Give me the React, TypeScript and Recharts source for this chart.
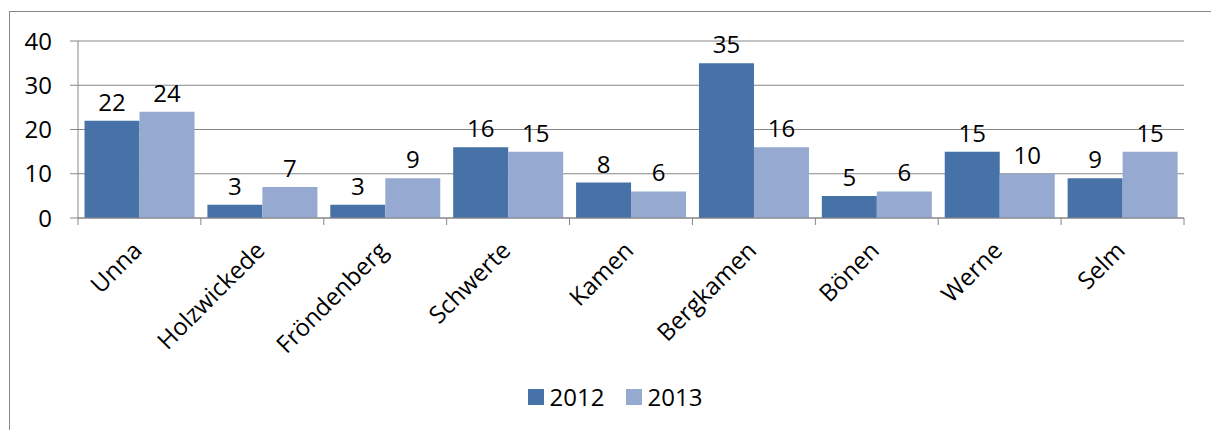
import React from 'react';
import { BarChart, Bar, XAxis, YAxis, CartesianGrid, Legend, LabelList } from 'recharts';

const towns = ['Unna', 'Holzwickede', 'Fröndenberg', 'Schwerte', 'Kamen', 'Bergkamen', 'Bönen', 'Werne', 'Selm'];
const values2012 = [22, 3, 3, 16, 8, 35, 5, 15, 9];
const values2013 = [24, 7, 9, 15, 6, 16, 6, 10, 15];
const yTicks = [0, 10, 20, 30, 40];

const data = towns.map((town, i) => ({ town, y2012: values2012[i], y2013: values2013[i] }));

const W = 1211;
const H = 430;
const PLOT_LEFT = 78;
const PLOT_RIGHT = 1184;
const BAND = (PLOT_RIGHT - PLOT_LEFT) / towns.length;
const AXIS = '#868686';
const DARK = '#4672A8';
const LIGHT = '#95A9D1';
const FONT = '"Open Sans", Lato, sans-serif';
const FS = 24;

const TownTick = (props: any) => {
  const { x, y, payload, index } = props;
  return (
    <g>
      <line x1={x - BAND / 2} x2={x - BAND / 2} y1={y} y2={y + 7} stroke={AXIS} />
      {index === towns.length - 1 && (
        <line x1={x + BAND / 2} x2={x + BAND / 2} y1={y} y2={y + 7} stroke={AXIS} />
      )}
      <text
        transform={`translate(${x + 4},${y + 34}) rotate(-45)`}
        textAnchor="end"
        fontSize={FS}
        fontFamily={FONT}
        fill="#000"
      >
        {payload.value}
      </text>
    </g>
  );
};

const LegendBox = () => (
  <div style={{ display: 'flex', justifyContent: 'center', alignItems: 'center', fontFamily: FONT, fontSize: FS, color: '#000' }}>
    {[{ name: '2012', color: DARK }, { name: '2013', color: LIGHT }].map((s, i) => (
      <div key={s.name} style={{ display: 'flex', alignItems: 'center', marginLeft: i ? 21 : 0 }}>
        <span style={{ width: 16, height: 16, background: s.color, marginRight: 6, display: 'inline-block' }} />
        <span>{s.name}</span>
      </div>
    ))}
  </div>
);

export default function App() {
  return (
    <div style={{ position: 'absolute', left: 0, top: 0, width: W, height: H, overflow: 'hidden', background: '#fff' }}>
      <div style={{ position: 'absolute', left: 9, top: 11, width: W + 20, height: H + 20, border: `1px solid ${AXIS}` }} />
      <BarChart
        width={W}
        height={H}
        data={data}
        margin={{ top: 41, right: W - PLOT_RIGHT, bottom: 0, left: 0 }}
        barCategoryGap="5.3%"
        barGap={0}
      >
        <CartesianGrid vertical={false} stroke={AXIS} />
        <XAxis
          dataKey="town"
          height={H - 41 - 177}
          stroke={AXIS}
          tickLine={false}
          tickSize={0}
          tickMargin={0}
          interval={0}
          tick={<TownTick />}
        />
        <YAxis
          width={PLOT_LEFT}
          domain={[0, 40]}
          ticks={yTicks}
          stroke={AXIS}
          tickSize={8}
          tickMargin={18}
          tick={{ fill: '#000', fontSize: FS, fontFamily: FONT }}
        />
        <Legend
          verticalAlign="middle"
          align="center"
          layout="horizontal"
          wrapperStyle={{ top: 380, left: 0, width: 1230 }}
          content={() => <LegendBox />}
        />
        <Bar dataKey="y2012" name="2012" fill={DARK} isAnimationActive={false}>
          <LabelList dataKey="y2012" position="top" offset={10} fill="#000" fontSize={FS} fontFamily={FONT} />
        </Bar>
        <Bar dataKey="y2013" name="2013" fill={LIGHT} isAnimationActive={false}>
          <LabelList dataKey="y2013" position="top" offset={10} fill="#000" fontSize={FS} fontFamily={FONT} />
        </Bar>
      </BarChart>
    </div>
  );
}
